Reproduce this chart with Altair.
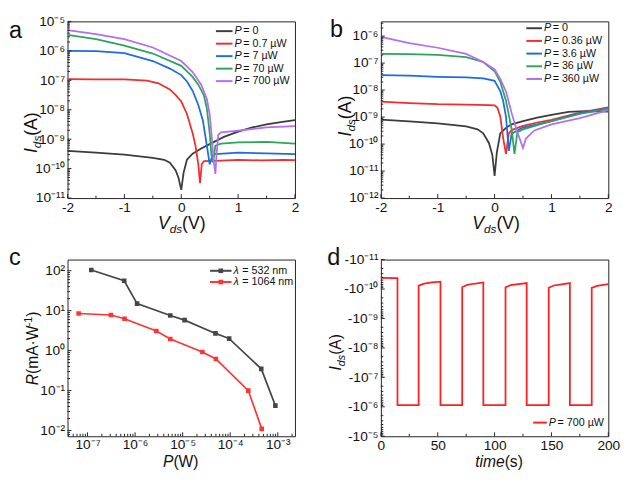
import altair as alt
import pandas as pd

# ---------------- data ----------------
# panel a : Ids-Vds, 532 nm
a_names = ["= 0", "= 0.7 µW", "= 7 µW", "= 70 µW", "= 700 µW"]
a_V = [
    [-2, -1.5, -1, -0.5, -0.3, -0.2, -0.1, -0.05, 0, 0.04, 0.1, 0.2, 0.35, 0.5, 0.75, 1.0, 1.25, 1.5, 1.75, 2.0],
    [-2, -1.5, -1, -0.6, -0.4, -0.2, -0.1, 0, 0.1, 0.2, 0.25, 0.3, 0.33, 0.36, 0.4, 0.6, 1.0, 1.4, 1.8, 2.0],
    [-2, -1.5, -1, -0.5, -0.2, 0, 0.1, 0.2, 0.3, 0.38, 0.45, 0.5, 0.55, 0.6, 0.8, 1.0, 1.5, 2.0],
    [-2, -1.5, -1, -0.5, 0, 0.2, 0.3, 0.4, 0.45, 0.5, 0.53, 0.56, 0.6, 0.7, 1.0, 1.5, 2.0],
    [-2, -1.5, -1, -0.5, 0, 0.2, 0.35, 0.45, 0.5, 0.54, 0.57, 0.6, 0.62, 0.65, 0.7, 1.0, 1.5, 2.0],
]
a_I = [
    [4.0e-10, 3.5e-10, 3.0e-10, 2.3e-10, 2.0e-10, 1.6e-10, 8.9e-11, 5.0e-11, 1.9e-11, 7.1e-11,
     2.0e-10, 3.2e-10, 4.8e-10, 6.8e-10, 1.2e-9, 1.8e-9, 2.5e-9, 3.2e-9, 3.8e-9, 4.4e-9],
    [1.1e-7, 1.07e-7, 1.07e-7, 9.8e-8, 7.9e-8, 4.9e-8, 3.2e-8, 1.9e-8, 7.2e-9, 1.6e-9,
     6.0e-10, 1.4e-10, 3.2e-11, 1.4e-10, 1.8e-10, 1.85e-10, 2.0e-10, 1.9e-10, 2.0e-10, 1.95e-10],
    [1.0e-6, 9.8e-7, 8.3e-7, 4.5e-7, 2.5e-7, 1.5e-7, 9.1e-8, 4.4e-8, 1.45e-8, 4.3e-9,
     6.0e-10, 1.4e-10, 2.9e-10, 3.1e-10, 3.3e-10, 3.5e-10, 3.3e-10, 3.1e-10],
    [3.5e-6, 2.5e-6, 1.5e-6, 8.1e-7, 3.1e-7, 1.3e-7, 7.1e-8, 3.0e-8, 1.1e-8, 1.6e-9,
     2.9e-10, 1.6e-10, 6.0e-10, 7.1e-10, 7.8e-10, 8.1e-10, 7.1e-10],
    [5.1e-6, 3.7e-6, 2.5e-6, 1.3e-6, 4.5e-7, 1.9e-7, 7.1e-8, 2.3e-8, 6.9e-9, 9.8e-10,
     1.8e-10, 6.6e-11, 2.9e-10, 1.4e-9, 1.7e-9, 1.95e-9, 2.5e-9, 2.8e-9],
]

# panel b : Ids-Vds, 1064 nm
b_names = ["= 0", "= 0.36 µW", "= 3.6 µW", "= 36 µW", "= 360 µW"]
b_V = [
    [-2, -1.5, -1, -0.5, -0.3, -0.2, -0.1, -0.04, 0, 0.04, 0.1, 0.2, 0.3, 0.5, 0.75, 1.0, 1.3, 1.6, 2.0],
    [-2, -1.5, -1, -0.5, -0.1, 0, 0.05, 0.1, 0.15, 0.2, 0.25, 0.3, 0.5, 0.75, 1.0, 1.5, 2.0],
    [-2, -1.5, -1, -0.5, -0.2, 0, 0.1, 0.15, 0.2, 0.25, 0.3, 0.4, 0.5, 0.75, 1.0, 1.5, 2.0],
    [-2, -1.5, -1, -0.5, -0.2, 0, 0.1, 0.2, 0.3, 0.35, 0.4, 0.5, 0.75, 1.0, 1.5, 2.0],
    [-2, -1.5, -1, -0.5, -0.2, 0, 0.1, 0.2, 0.3, 0.4, 0.45, 0.5, 0.55, 0.7, 1.0, 1.5, 2.0],
]
b_I = [
    [8.1e-10, 6.9e-10, 5.9e-10, 4.5e-10, 3.5e-10, 2.5e-10, 1.1e-10, 4.0e-11, 6.6e-12, 5.0e-11,
     2.5e-10, 4.0e-10, 5.4e-10, 7.1e-10, 9.5e-10, 1.2e-9, 1.55e-9, 1.65e-9, 1.6e-9],
    [3.7e-9, 3.3e-9, 3.0e-9, 2.9e-9, 2.8e-9, 2.7e-9, 2.2e-9, 1.05e-9, 1.7e-10, 4.3e-11,
     2.5e-10, 3.3e-10, 4.7e-10, 6.3e-10, 7.9e-10, 1.45e-9, 2.3e-9],
    [3.6e-8, 3.4e-8, 3.1e-8, 2.95e-8, 2.7e-8, 2.2e-8, 9.1e-9, 4.0e-9, 1.05e-9, 5.6e-11,
     2.4e-10, 3.2e-10, 4.1e-10, 5.4e-10, 7.1e-10, 1.4e-9, 2.1e-9],
    [2.2e-7, 2.15e-7, 2.0e-7, 1.65e-7, 1.1e-7, 5.0e-8, 2.0e-8, 4.0e-9, 3.6e-10, 4.3e-11,
     2.75e-10, 3.5e-10, 5.0e-10, 7.1e-10, 1.3e-9, 2.0e-9],
    [9.3e-7, 5.5e-7, 3.7e-7, 2.2e-7, 1.1e-7, 5.8e-8, 2.6e-8, 8.9e-9, 1.4e-9, 2.75e-10,
     1.4e-10, 7.2e-11, 1.6e-10, 3.2e-10, 5.4e-10, 9.1e-10, 1.8e-9],
]

# panel c : responsivity vs power
c_names = ["= 532 nm", "= 1064 nm"]
c_P = [
    [1.2e-7, 5.9e-7, 1.1e-6, 5.5e-6, 1.1e-5, 4.9e-5, 9.5e-5, 4.5e-4, 8.9e-4],
    [6.5e-8, 3.1e-7, 6.0e-7, 2.8e-6, 5.5e-6, 2.6e-5, 5.0e-5, 2.4e-4, 4.6e-4],
]
c_R = [
    [104, 56, 15, 7.6, 5.8, 2.7, 2.0, 0.35, 0.042],
    [8.5, 7.8, 6.3, 3.1, 1.95, 0.92, 0.62, 0.10, 0.011],
]

# panel d : time response, P = 700 µW
d_t = [0, 14.6, 14.6, 33.2, 33.2, 38, 45, 52.4, 52.4, 71.5, 71.5, 76, 83, 90.1, 90.1, 109.6,
       109.6, 114, 121, 128.2, 128.2, 147.6, 147.6, 152, 159, 166.2, 166.2, 185.4, 185.4, 190, 200]
d_I = [-4.2e-11, -4.3e-11, -8.8e-7, -8.8e-7, -7.7e-11, -6.6e-11, -6.0e-11, -5.6e-11, -8.8e-7, -8.8e-7,
       -8.7e-11, -7.2e-11, -6.5e-11, -6.0e-11, -8.8e-7, -8.8e-7, -8.7e-11, -7.4e-11, -6.8e-11, -6.3e-11,
       -8.8e-7, -8.8e-7, -9.1e-11, -7.6e-11, -6.9e-11, -6.3e-11, -8.8e-7, -8.8e-7, -9.1e-11, -7.8e-11, -6.8e-11]

# tick values / labels
a_yexp = [-11, -10, -9, -8, -7, -6, -5]
b_yexp = [-12, -11, -10, -9, -8, -7, -6]
c_xexp = [-7, -6, -5, -4, -3]
c_yexp = [-2, -1, 0, 1, 2]
d_yexp = [-11, -10, -9, -8, -7, -6, -5]
v_ticks = [-2, -1, 0, 1, 2]
v_minor = [-1.5, -0.5, 0.5, 1.5]
t_ticks = [0, 50, 100, 150, 200]
t_minor = [25, 75, 125, 175]

COLS5 = ["#3c3c3c", "#f42c2c", "#1e6ce3", "#2ba55b", "#b36ef2"]
COLS2 = ["#454545", "#ff3333"]
RED = "#ff1f1f"

# ---------------- helpers ----------------
FONT = "Liberation Sans"
W, H = 233, 181
EM = {'I': .278, 'V': .667, 'd': .556, 's': .5, '(': .333, ')': .333, 'A': .667, 'P': .667,
      'W': .944, 'R': .722, 'm': .833, 'a': .556, '·': .278, 't': .278, 'i': .222, 'e': .556,
      '-': .333, '1': .556}
SUP = str.maketrans("-0123456789", "⁻⁰¹²³⁴⁵⁶⁷⁸⁹")
DUMMY = pd.DataFrame({"d": [0]})


def tw(s, size):
    return sum(EM.get(c, .556) for c in s) * size


def txt(s, x, y, size, italic=False, angle=0, align="left", baseline="alphabetic", color="#111"):
    kw = dict(text=s, font=FONT, fontSize=size, align=align, baseline=baseline, color=color)
    if italic:
        kw["fontStyle"] = "italic"
    if angle:
        kw["angle"] = angle
    return alt.Chart(DUMMY).mark_text(**kw).encode(x=alt.value(x), y=alt.value(y))


def htitle(parts, cx, by):
    total = sum(tw(t, s) for t, s, _, _ in parts)
    x = cx - total / 2
    out = []
    for t, s, it, sh in parts:
        out.append(txt(t, x, by + sh, s, it))
        x += tw(t, s)
    return out


def vtitle(parts, bx, cy):
    total = sum(tw(t, s) for t, s, _, _ in parts)
    y = cy + total / 2
    out = []
    for t, s, it, sh in parts:
        out.append(txt(t, bx + sh, y, s, it, angle=270))
        y -= tw(t, s)
    return out


def legend(entries, x1, x2, xt, y0, dy, sym="P", marker=False):
    out = []
    for i, (rest, col) in enumerate(entries):
        y = y0 + i * dy
        out.append(alt.Chart(DUMMY).mark_rule(color=col, strokeWidth=2).encode(
            x=alt.value(x1), x2=alt.value(x2), y=alt.value(y)))
        if marker:
            out.append(alt.Chart(DUMMY).mark_point(shape="square", filled=True, color=col, size=22,
                                                   opacity=1).encode(x=alt.value((x1 + x2) / 2), y=alt.value(y)))
        out.append(txt(sym, xt, y, 11, italic=True, baseline="middle"))
        out.append(txt(rest, xt + 9, y, 11, baseline="middle"))
    return out


def log_minor(lo, hi, neg=False):
    vals = []
    for e in range(-13, 4):
        for m in range(2, 10):
            v = m * 10.0 ** e
            if lo < v < hi:
                vals.append(-v if neg else v)
    return vals


def exp_vals(exps, neg=False):
    return [(-1 if neg else 1) * float("1e" + str(e)) for e in exps]


def log_axis(exps, neg=False, pad=3):
    labels = [("-" if neg else "") + "10" + str(e).translate(SUP) for e in exps]
    arr = "[" + ",".join("'" + l + "'" for l in labels) + "]"
    idx = "round(log(" + ("-" if neg else "") + "datum.value)/LN10)-(" + str(exps[0]) + ")"
    return alt.Axis(values=exp_vals(exps, neg), labelExpr=arr + "[" + idx + "]", ticks=False, domain=False,
                    grid=False, title=None, labelOverlap=False, labelFlush=False, labelPadding=pad,
                    labelFont=FONT, labelFontSize=14, labelColor="#111")


def lin_axis(vals, pad=3):
    return alt.Axis(values=vals, labelExpr="'' + datum.value", ticks=False, domain=False, grid=False,
                    title=None, labelOverlap=False, labelFlush=False, labelPadding=pad,
                    labelFont=FONT, labelFontSize=14, labelColor="#111")


def ticks(xscale, yscale, xaxis, yaxis, xmaj, xmin, ymaj, ymin):
    # short inward tick marks drawn through the panel's own scales
    out = []
    for vals, L in ((ymaj, 4), (ymin, 2.5)):
        out.append(alt.Chart(pd.DataFrame({"x": [0] * len(vals), "y": vals})).mark_rule(
            color="#222", strokeWidth=1).encode(
            y=alt.Y("y:Q", scale=yscale, axis=yaxis), x=alt.value(0), x2=alt.value(L)))
    for vals, L in ((xmaj, 4), (xmin, 2.5)):
        out.append(alt.Chart(pd.DataFrame({"x": vals})).mark_rule(color="#222", strokeWidth=1).encode(
            x=alt.X("x:Q", scale=xscale, axis=xaxis), y=alt.value(H), y2=alt.value(H - L)))
    return out


def long_df(xs, ys, names):
    rows = []
    for n, X, Y in zip(names, xs, ys):
        for k, (x, y) in enumerate(zip(X, Y)):
            rows.append({"s": n, "x": x, "y": y, "k": k})
    return pd.DataFrame(rows)


IDS18 = [("I", 18, True, 0), ("ds", 12, True, 4), ("(A)", 18, False, 0)]
VDS18 = [("V", 18, True, 0), ("ds", 12, True, 4), ("(V)", 18, False, 0)]
IDS16 = [("I", 16, True, 0), ("ds", 11, True, 4), ("(A)", 16, False, 0)]
RT = [("R", 16, True, 0), ("(mA·W", 16, False, 0), ("-1", 11, False, -6), (")", 16, False, 0)]
PT = [("P", 16, True, 0), ("(W)", 16, False, 0)]
TT = [("time", 16, True, 0), ("(s)", 16, False, 0)]

# ---------------- panel a ----------------
xs_a = alt.Scale(domain=[-2, 2], nice=False)
ys_a = alt.Scale(type="log", domain=[1e-11, 1e-5], nice=False)
xa_a, ya_a = lin_axis(v_ticks), log_axis(a_yexp)
dfa = long_df(a_V, a_I, a_names)
la = alt.Chart(dfa).mark_line(strokeWidth=1.8, clip=True).encode(
    x=alt.X("x:Q", scale=xs_a, axis=xa_a),
    y=alt.Y("y:Q", scale=ys_a, axis=ya_a),
    color=alt.Color("s:N", scale=alt.Scale(domain=a_names, range=COLS5), legend=None),
    order=alt.Order("k:Q"),
)
pa = alt.layer(la, *ticks(xs_a, ys_a, xa_a, ya_a, v_ticks, v_minor, exp_vals(a_yexp), log_minor(1e-11, 1e-5)),
               txt("a", -60, 17, 24), *vtitle(IDS18, -31, 114), *htitle(VDS18, 117, H + 32),
               *legend(list(zip(a_names, COLS5)), 152, 169, 171, 10, 12.8)).properties(width=W, height=H)

# ---------------- panel b ----------------
xs_b = alt.Scale(domain=[-2, 2], nice=False)
ys_b = alt.Scale(type="log", domain=[1e-12, 3.5e-6], nice=False)
xa_b, ya_b = lin_axis(v_ticks), log_axis(b_yexp)
dfb = long_df(b_V, b_I, b_names)
lb = alt.Chart(dfb).mark_line(strokeWidth=1.8, clip=True).encode(
    x=alt.X("x:Q", scale=xs_b, axis=xa_b),
    y=alt.Y("y:Q", scale=ys_b, axis=ya_b),
    color=alt.Color("s:N", scale=alt.Scale(domain=b_names, range=COLS5), legend=None),
    order=alt.Order("k:Q"),
)
pb = alt.layer(lb, *ticks(xs_b, ys_b, xa_b, ya_b, v_ticks, v_minor, exp_vals(b_yexp), log_minor(1e-12, 3.5e-6)),
               txt("b", -52, 16, 24), *vtitle(IDS18, -31, 97), *htitle(VDS18, 118, H + 32),
               *legend(list(zip(b_names, COLS5)), 149, 165, 167, 7, 13)).properties(width=W, height=H)

# ---------------- panel c ----------------
xs_c = alt.Scale(type="log", domain=[3.8e-8, 2.3e-3], nice=False)
ys_c = alt.Scale(type="log", domain=[7.2e-3, 190], nice=False)
xa_c, ya_c = log_axis(c_xexp, pad=2), log_axis(c_yexp)
dfc = long_df(c_P, c_R, c_names)
lc = alt.Chart(dfc).mark_line(strokeWidth=1.7, clip=True,
                              point=alt.OverlayMarkDef(shape="square", filled=True, size=22, opacity=1)).encode(
    x=alt.X("x:Q", scale=xs_c, axis=xa_c),
    y=alt.Y("y:Q", scale=ys_c, axis=ya_c),
    color=alt.Color("s:N", scale=alt.Scale(domain=c_names, range=COLS2), legend=None),
    order=alt.Order("k:Q"),
)
pc = alt.layer(lc, *ticks(xs_c, ys_c, xa_c, ya_c, exp_vals(c_xexp), log_minor(3.8e-8, 2.3e-3),
                          exp_vals(c_yexp), log_minor(7.2e-3, 190)),
               txt("c", -60, 6, 24), *vtitle(RT, -30, 91), *htitle(PT, 116, H + 31),
               *legend(list(zip(c_names, COLS2)), 146, 168, 170, 11.5, 11.5, sym="λ", marker=True)
               ).properties(width=W, height=H)

# ---------------- panel d ----------------
xs_d = alt.Scale(domain=[0, 200], nice=False)
ys_d = alt.Scale(type="log", domain=[-1e-5, -1e-11], nice=False)
xa_d, ya_d = lin_axis(t_ticks, pad=3), log_axis(d_yexp, neg=True)
dfd = pd.DataFrame({"x": d_t, "y": d_I, "k": list(range(len(d_t)))})
ld = alt.Chart(dfd).mark_line(strokeWidth=1.8, clip=True, color=RED).encode(
    x=alt.X("x:Q", scale=xs_d, axis=xa_d),
    y=alt.Y("y:Q", scale=ys_d, axis=ya_d),
    order=alt.Order("k:Q"),
)
pd_ = alt.layer(ld, *ticks(xs_d, ys_d, xa_d, ya_d, t_ticks, t_minor, exp_vals(d_yexp, True),
                           log_minor(1e-11, 1e-5, True)),
                txt("d", -55, 6, 24), *vtitle(IDS16, -41, 95), *htitle(TT, 121, H + 31),
                *legend([("= 700 µW", RED)], 156, 170, 172, 167, 0)).properties(width=W, height=H)

chart = alt.concat(pa, pb, pc, pd_, columns=2, spacing={"row": 63, "column": 88}, bounds="flush").resolve_scale(
    x="independent", y="independent", color="independent"
).properties(padding=0).configure_view(stroke="#222", strokeWidth=1)

chart.save("out.html", embed_options={"renderer": "svg", "actions": False})
